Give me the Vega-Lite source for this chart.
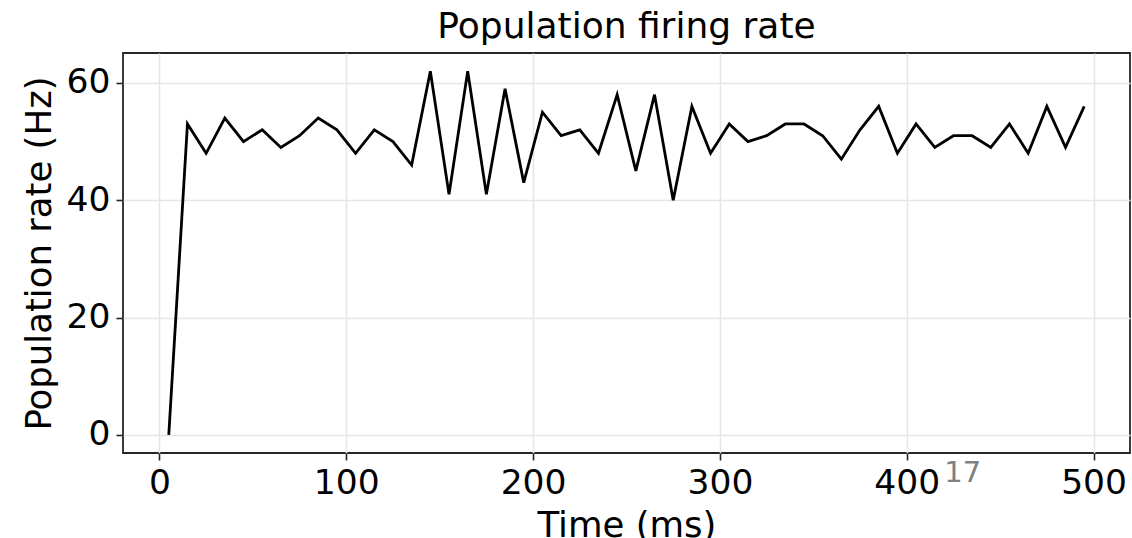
{
  "$schema": "https://vega.github.io/schema/vega-lite/v6.json",
  "width": 1007,
  "height": 400,
  "autosize": "none",
  "padding": {"left": 123, "top": 53, "right": 2, "bottom": 85},
  "background": "white",
  "config": {
    "font": "DejaVu Sans",
    "view": {"stroke": "#262626", "strokeWidth": 1.8},
    "axis": {
      "domain": false,
      "grid": true,
      "gridColor": "#e6e6e6",
      "gridWidth": 1.6,
      "tickColor": "#262626",
      "tickWidth": 1.6,
      "tickSize": 7,
      "labelFont": "DejaVu Sans",
      "labelFontSize": 34.5,
      "labelColor": "#000000",
      "labelPadding": 6,
      "titleFont": "DejaVu Sans",
      "titleFontSize": 35.5,
      "titleFontWeight": "normal",
      "titleColor": "#000000"
    },
    "title": {"font": "DejaVu Sans", "fontSize": 36, "fontWeight": "normal", "color": "#000000"}
  },
  "title": {"text": "Population firing rate", "offset": 7},
  "data": {
    "values": [
      {"t": 5, "rate": 0},
      {"t": 15, "rate": 53},
      {"t": 25, "rate": 48},
      {"t": 35, "rate": 54},
      {"t": 45, "rate": 50},
      {"t": 55, "rate": 52},
      {"t": 65, "rate": 49},
      {"t": 75, "rate": 51},
      {"t": 85, "rate": 54},
      {"t": 95, "rate": 52},
      {"t": 105, "rate": 48},
      {"t": 115, "rate": 52},
      {"t": 125, "rate": 50},
      {"t": 135, "rate": 46},
      {"t": 145, "rate": 62},
      {"t": 155, "rate": 41},
      {"t": 165, "rate": 62},
      {"t": 175, "rate": 41},
      {"t": 185, "rate": 59},
      {"t": 195, "rate": 43},
      {"t": 205, "rate": 55},
      {"t": 215, "rate": 51},
      {"t": 225, "rate": 52},
      {"t": 235, "rate": 48},
      {"t": 245, "rate": 58},
      {"t": 255, "rate": 45},
      {"t": 265, "rate": 58},
      {"t": 275, "rate": 40},
      {"t": 285, "rate": 56},
      {"t": 295, "rate": 48},
      {"t": 305, "rate": 53},
      {"t": 315, "rate": 50},
      {"t": 325, "rate": 51},
      {"t": 335, "rate": 53},
      {"t": 345, "rate": 53},
      {"t": 355, "rate": 51},
      {"t": 365, "rate": 47},
      {"t": 375, "rate": 52},
      {"t": 385, "rate": 56},
      {"t": 395, "rate": 48},
      {"t": 405, "rate": 53},
      {"t": 415, "rate": 49},
      {"t": 425, "rate": 51},
      {"t": 435, "rate": 51},
      {"t": 445, "rate": 49},
      {"t": 455, "rate": 53},
      {"t": 465, "rate": 48},
      {"t": 475, "rate": 56},
      {"t": 485, "rate": 49},
      {"t": 495, "rate": 56}
    ]
  },
  "layer": [
    {
      "mark": {"type": "line", "color": "#000000", "strokeWidth": 2.8},
      "encoding": {
        "x": {
          "field": "t", "type": "quantitative",
          "scale": {"domain": [-19.5, 519.5], "nice": false, "zero": false},
          "axis": {"values": [0, 100, 200, 300, 400, 500], "title": "Time (ms)", "titlePadding": 9}
        },
        "y": {
          "field": "rate", "type": "quantitative",
          "scale": {"domain": [-3.1, 65.1], "nice": false, "zero": false},
          "axis": {"values": [0, 20, 40, 60], "title": "Population rate (Hz)", "titlePadding": 9}
        }
      }
    },
    {
      "data": {"values": [{"t": 430, "rate": -8, "label": "17"}]},
      "mark": {"type": "text", "font": "DejaVu Sans", "fontSize": 29, "color": "#808080", "align": "center", "baseline": "alphabetic"},
      "encoding": {
        "x": {"field": "t", "type": "quantitative"},
        "y": {"field": "rate", "type": "quantitative"},
        "text": {"field": "label"}
      }
    }
  ]
}
